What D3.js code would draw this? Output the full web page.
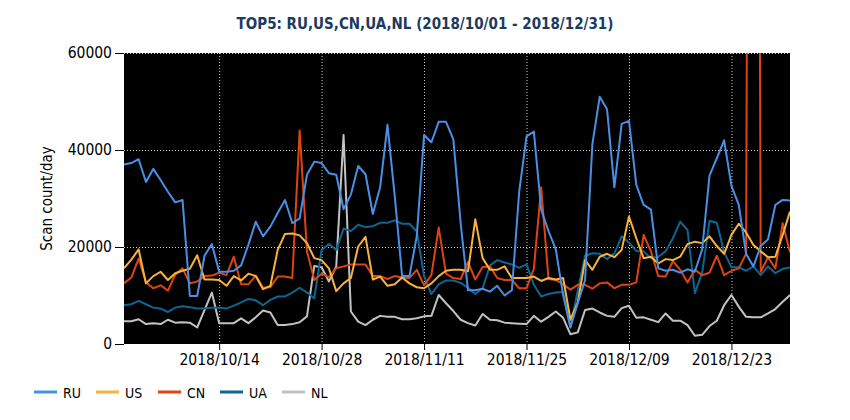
<!DOCTYPE html>
<html>
<head>
<meta charset="utf-8">
<script src="https://cdn.jsdelivr.net/npm/d3@7"></script>
<style>
  body { margin: 0; background: #fff; }
  text { font-family: "DejaVu Sans Condensed", "DejaVu Sans", sans-serif; }
  .grid line { stroke: #cfcfcf; stroke-dasharray: 1,2; }
  .grid path { display: none; }
  .axis path { display: none; }
  .axis line { stroke: #000; }
  .axis text { fill: #000; font-size: 15.5px; }
</style>
</head>
<body>
<div id="chart"></div>
<script>
// Chart size
var svgWidth = 850;
var svgHeight = 420;

var margin = { top: 53, right: 60, bottom: 76, left: 124 };
var width = svgWidth - margin.left - margin.right;
var height = svgHeight - margin.top - margin.bottom;

// days 2018/10/01 .. 2018/12/31
var days = d3.timeDay.range(new Date(2018, 9, 1), new Date(2019, 0, 1));

var countries = ["RU", "US", "CN", "UA", "NL"];
var colors = ["#4a8fe6", "#f8b33c", "#dd4411", "#0d6592", "#c2c2c2"];

var ruValues = [37000, 37300, 38100, 33400, 36100, 33800, 31400, 29200, 29700, 9900,
  9900, 18200, 20600, 14900, 14900, 15100, 16200, 20500, 25200, 22200,
  24200, 27000, 29700, 24900, 25900, 34900, 37600, 37300, 35200, 34900,
  27800, 30800, 36700, 35000, 26800, 32300, 45200, 30400, 14000, 14000,
  22200, 43100, 41600, 45800, 45800, 42200, 24900, 11100, 11100, 11400,
  10800, 12000, 10000, 11100, 31400, 42800, 43800, 27700, 23300, 19500,
  10100, 3400, 8400, 13200, 41200, 51000, 48400, 32300, 45400, 46000,
  32800, 28700, 27700, 15600, 15100, 15300, 14700, 15400, 14900, 19500,
  34700, 38300, 42000, 32600, 28700, 18600, 16000, 20200, 21600, 28700,
  29700, 29600];

var usValues = [15600, 17400, 19500, 12500, 14000, 14900, 13200, 14600, 15100, 15500,
  18300, 13300, 13300, 13200, 12000, 14000, 13100, 14500, 14000, 11300,
  12000, 19400, 22700, 22800, 22400, 20800, 17700, 17300, 15600, 10900,
  12500, 13600, 20100, 22100, 13300, 13900, 12000, 12300, 13700, 12500,
  11700, 11500, 12500, 14000, 15100, 15300, 15300, 15000, 25700, 17700,
  15300, 15300, 16000, 13600, 13600, 13600, 13900, 13000, 13600, 13300,
  13600, 5000, 8600, 17300, 15300, 18000, 18600, 17900, 19400, 26300,
  21800, 17700, 18000, 16600, 17500, 17300, 18000, 20600, 21100, 20800,
  22200, 20200, 18600, 22500, 24800, 23000, 20400, 19100, 17900, 18000,
  22500, 27300];

var cnValues = [12500, 13700, 17600, 12700, 11500, 12100, 11000, 14300, 15600, 12500,
  12900, 14000, 14100, 14700, 14200, 18000, 12300, 12300, 14100, 11600,
  11700, 13900, 13900, 13600, 44000, 19100, 13200, 14500, 13800, 15600,
  16000, 16400, 16400, 16400, 14000, 14000, 13400, 14000, 13700, 13600,
  15300, 12100, 14200, 24000, 14500, 13600, 13400, 16900, 13300, 15900,
  16000, 13600, 13200, 13200, 11500, 11500, 15500, 32300, 13400, 13200,
  12300, 11200, 12200, 12200, 11400, 12500, 12700, 11500, 12200, 12200,
  12700, 22500, 19100, 14000, 13900, 17100, 15300, 12700, 15300, 14200,
  14700, 18200, 14200, 15100, 15600, 18600, 450000, 14900, 17900, 15600,
  24900, 18900];

var uaValues = [8000, 8200, 8900, 8200, 7500, 7300, 6600, 7500, 7800, 7600,
  7300, 7300, 7500, 7500, 7300, 7900, 8600, 9300, 9000, 8000,
  9100, 9800, 9800, 10600, 11600, 10600, 9400, 19400, 20600, 19400,
  23800, 23300, 24600, 24100, 24300, 25000, 25000, 25500, 24800, 24800,
  23200, 14000, 10300, 12300, 13100, 13100, 12600, 11600, 10300, 11500,
  16200, 17300, 16800, 16400, 15700, 16400, 12200, 9800, 10300, 10600,
  10700, 3400, 11100, 18200, 18700, 18600, 17500, 18700, 22200, 20900,
  19200, 19100, 17700, 18000, 19100, 21800, 25200, 23500, 10500, 14700,
  25400, 25000, 18900, 15800, 15800, 15100, 16000, 14200, 16000, 14600,
  15500, 15800];

var nlValues = [4700, 4700, 5100, 4100, 4300, 4100, 5000, 4400, 4500, 4400,
  3400, 7000, 10600, 4300, 4300, 4300, 5300, 4300, 5500, 6900,
  6500, 3900, 3900, 4100, 4500, 5700, 16100, 15800, 12900, 16000,
  43100, 6700, 4600, 3900, 5000, 5800, 5600, 5600, 5100, 5100,
  5300, 5700, 5800, 10100, 8400, 6800, 5000, 4300, 3800, 6200,
  5000, 4900, 4400, 4300, 4200, 4100, 5800, 4600, 5600, 6700,
  5400, 2000, 2400, 7000, 7300, 6500, 5800, 5600, 7400, 7900,
  5400, 5500, 5000, 4500, 6300, 4800, 4800, 3900, 1700, 1900,
  3700, 4800, 8000, 10100, 7700, 5600, 5500, 5500, 6300, 7200,
  8700, 10100];

var seriesValues = [ruValues, usValues, cnValues, uaValues, nlValues];

var yTicks = [0, 20000, 40000, 60000];
var xTickDates = ["2018/10/14", "2018/10/28", "2018/11/11", "2018/11/25", "2018/12/09", "2018/12/23"];

var parseDate = d3.timeParse("%Y/%m/%d");
var formatDate = d3.timeFormat("%Y/%m/%d");

var svg = d3.select("#chart")
  .append("svg")
  .attr("width", svgWidth)
  .attr("height", svgHeight);

// title
svg.append("text")
  .attr("x", svgWidth / 2)
  .attr("y", 29)
  .attr("text-anchor", "middle")
  .attr("font-size", "15px")
  .attr("font-weight", "bold")
  .attr("fill", "#1d3a5e")
  .text("TOP5: RU,US,CN,UA,NL (2018/10/01 - 2018/12/31)");

var chartGroup = svg.append("g")
  .attr("transform", `translate(${margin.left}, ${margin.top})`);

var xScale = d3.scaleTime()
  .domain([days[0], days[days.length - 1]])
  .range([0, width]);

var yScale = d3.scaleLinear()
  .domain([0, 60000])
  .range([height, 0]);

// black plot area
chartGroup.append("rect")
  .attr("width", width)
  .attr("height", height)
  .attr("fill", "#000");

chartGroup.append("clipPath")
  .attr("id", "plotClip")
  .append("rect")
  .attr("width", width)
  .attr("height", height);

// grid lines
chartGroup.append("g")
  .attr("class", "grid")
  .call(d3.axisLeft(yScale).tickValues(yTicks.slice(1)).tickSize(-width).tickFormat(""));

chartGroup.append("g")
  .attr("class", "grid")
  .call(d3.axisBottom(xScale).tickValues(xTickDates.map(parseDate)).tickSize(height).tickFormat(""));

// axes
chartGroup.append("g")
  .attr("class", "axis")
  .call(d3.axisLeft(yScale).tickValues(yTicks).tickSize(9).tickPadding(3).tickFormat(d3.format("d")));

chartGroup.append("g")
  .attr("class", "axis")
  .attr("transform", `translate(0, ${height})`)
  .call(d3.axisBottom(xScale).tickValues(xTickDates.map(parseDate)).tickSize(6).tickPadding(4).tickFormat(formatDate));

// y label
svg.append("text")
  .attr("transform", `translate(52, ${margin.top + height / 2}) rotate(-90)`)
  .attr("text-anchor", "middle")
  .attr("font-size", "15px")
  .attr("fill", "#000")
  .text("Scan count/day");

// lines
var line = d3.line()
  .x((d, i) => xScale(days[i]))
  .y(d => yScale(d));

var linesGroup = chartGroup.append("g")
  .attr("clip-path", "url(#plotClip)");

// draw NL first so the others sit on top of it
[4, 3, 2, 1, 0].forEach(function(k) {
  linesGroup.append("path")
    .datum(seriesValues[k])
    .attr("d", line)
    .attr("fill", "none")
    .attr("stroke", colors[k])
    .attr("stroke-width", 2)
    .attr("stroke-linejoin", "round");
});

// legend
var legend = svg.append("g")
  .attr("transform", "translate(34, 392)");

countries.forEach(function(c, i) {
  var item = legend.append("g")
    .attr("transform", `translate(${i * 62}, 0)`);
  item.append("line")
    .attr("x1", 0)
    .attr("x2", 23)
    .attr("stroke", colors[i])
    .attr("stroke-width", 3);
  item.append("text")
    .attr("x", 29)
    .attr("y", 5.5)
    .attr("font-size", "14px")
    .attr("fill", "#000")
    .text(c);
});
</script>
</body>
</html>
